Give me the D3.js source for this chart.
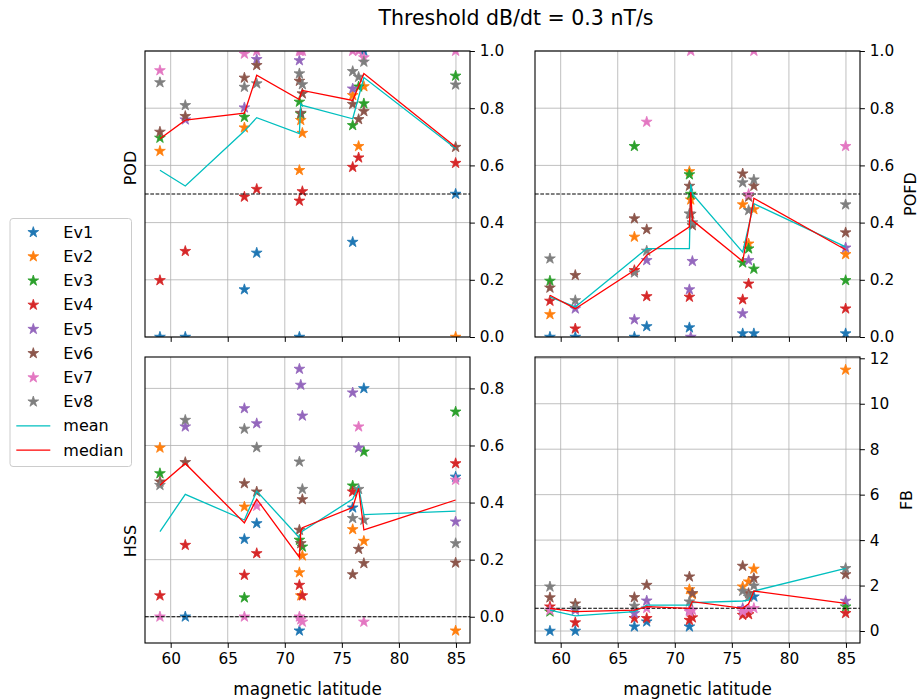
<!DOCTYPE html>
<html>
<head>
<meta charset="utf-8">
<script src="https://cdn.jsdelivr.net/npm/d3@7"></script>
<style>
  html, body { margin: 0; padding: 0; background: #fff; }
  svg { display: block; font-family: "DejaVu Sans", sans-serif; }
</style>
</head>
<body>
<svg id="chart" width="919" height="700"></svg>
<script>
// ---------------- DATA ----------------
const titleText = "Threshold dB/dt = 0.3 nT/s";
const eventNames = ["Ev1", "Ev2", "Ev3", "Ev4", "Ev5", "Ev6", "Ev7", "Ev8"];
const eventColors = ["#1f77b4", "#ff7f0e", "#2ca02c", "#d62728", "#9467bd", "#8c564b", "#e377c2", "#7f7f7f"];
// magnetic latitude of each station
const lat = [59.06, 61.28, 66.46, 67.54, 71.28, 71.40, 71.54, 75.95, 76.47, 76.93, 84.97];
const xTicks = [60, 65, 70, 75, 80, 85];

// POD per event (rows Ev1..Ev8, columns = stations)
const podValues = [
  [0.0, 0.0, 0.166, 0.294, 0.0, null, null, 0.332, null, 1.0, 0.5],
  [0.65, null, 0.732, null, 0.583, 0.758, 0.713, 0.845, 0.667, 0.876, 0.0],
  [0.696, null, 0.769, null, 0.822, 0.78, null, 0.740, 0.875, 0.816, 0.913],
  [0.198, 0.30, 0.490, 0.517, 0.476, null, 0.509, 0.594, 0.627, null, 0.608],
  [null, 0.76, 0.802, 0.971, 0.967, null, null, 0.868, null, null, null],
  [0.717, 0.772, 0.906, 0.950, 0.895, 0.783, 0.851, 0.814, 0.761, 0.789, 0.664],
  [0.932, null, 0.99, 1.0, 1.0, 1.0, 1.0, 1.0, 1.0, 0.977, 1.0],
  [0.890, 0.810, 0.874, 0.886, 0.921, null, 0.883, 0.929, 0.909, 0.962, 0.882]
];
const podMean   = [0.583, 0.528, 0.72, 0.767, 0.711, 0.816, 0.81, 0.763, 0.839, 0.907, 0.659];
const podMedian = [0.693, 0.758, 0.783, 0.915, 0.830, 0.85, 0.862, 0.827, 0.877, 0.921, 0.664];

// POFD per event
const pofdValues = [
  [0.0, 0.0, 0.0, 0.037, 0.033, null, null, 0.012, null, 0.012, 0.012],
  [0.079, null, 0.350, null, 0.579, 0.48, null, 0.463, 0.326, 0.446, 0.289],
  [0.196, null, 0.667, null, 0.568, 0.50, null, 0.260, 0.309, 0.238, 0.198],
  [0.126, 0.029, 0.233, 0.142, 0.140, null, null, 0.131, 0.186, null, 0.099],
  [null, 0.099, 0.061, 0.268, 0.166, 0.0, 0.265, 0.082, 0.268, null, 0.312],
  [0.172, 0.216, 0.414, 0.376, 0.528, 0.43, 0.39, 0.571, 0.49, 0.528, 0.365],
  [null, null, null, 0.752, null, 1.0, null, null, 0.499, 1.0, 0.667],
  [0.274, 0.128, 0.225, 0.301, 0.431, null, 0.40, 0.540, 0.443, 0.55, 0.463]
];
const pofdMean   = [0.14, 0.105, 0.274, 0.309, 0.309, 0.534, 0.50, 0.297, 0.387, 0.466, 0.315];
const pofdMedian = [0.146, 0.099, 0.233, 0.286, 0.385, 0.507, 0.408, 0.265, 0.38, 0.485, 0.305];

// HSS per event
const hssValues = [
  [null, 0.0, 0.272, 0.327, -0.049, null, null, 0.382, null, 0.80, 0.49],
  [0.592, null, 0.385, null, 0.155, 0.074, 0.214, 0.306, null, 0.265, -0.049],
  [0.502, null, 0.067, null, 0.269, null, 0.245, 0.459, null, 0.578, 0.718],
  [0.074, 0.251, 0.146, 0.222, 0.111, null, 0.074, 0.438, null, null, 0.537],
  [null, 0.666, 0.730, 0.677, 0.868, 0.812, 0.704, 0.785, 0.592, null, 0.333],
  [0.473, 0.541, 0.467, 0.438, 0.304, 0.257, 0.411, 0.148, 0.237, 0.187, 0.189],
  [0.0, null, 0.0, 0.388, 0.0, -0.01, -0.018, null, 0.666, -0.018, 0.479],
  [0.461, 0.689, 0.658, 0.593, 0.543, null, 0.447, 0.345, 0.447, 0.339, 0.257]
];
const hssMean   = [0.298, 0.429, 0.339, 0.44, 0.277, 0.29, 0.30, 0.412, 0.455, 0.358, 0.37];
const hssMedian = [0.461, 0.537, 0.329, 0.412, 0.208, 0.30, 0.312, 0.383, 0.45, 0.304, 0.409];

// FB per event
const fbValues = [
  [0.0, 0.0, 0.19, 0.41, 0.19, null, null, null, null, 1.51, null],
  [null, null, null, null, 1.83, null, 1.61, 1.95, 2.17, 2.73, 11.49],
  [0.85, null, null, null, null, null, null, null, null, null, 1.07],
  [1.07, 0.37, 0.56, 0.56, 0.48, null, 0.59, 0.70, 0.73, null, 0.78],
  [null, 0.92, 0.78, 1.33, 0.92, null, null, 1.0, null, null, 1.32],
  [1.47, 1.20, 1.48, 2.02, 2.39, null, 1.66, 2.86, 1.66, 2.32, 2.49],
  [0.92, null, null, 1.0, 0.85, null, 0.92, 0.85, 0.97, 1.0, null],
  [1.95, 1.0, 1.10, null, 1.29, null, null, 1.76, 1.5, 1.99, 2.76]
];
const fbMean   = [0.92, 0.67, 0.85, 1.14, 1.14, 1.2, 1.25, 1.32, 1.36, 1.76, 2.76];
const fbMedian = [1.0, 0.85, 0.92, 1.07, 1.0, 1.15, 1.29, 1.0, 1.2, 1.76, 1.22];

const podTicks  = [0, 0.2, 0.4, 0.6, 0.8, 1.0];
const pofdTicks = [0, 0.2, 0.4, 0.6, 0.8, 1.0];
const hssTicks  = [0, 0.2, 0.4, 0.6, 0.8];
const fbTicks   = [0, 2, 4, 6, 8, 10, 12];

// ---------------- DRAW ----------------
const svg = d3.select("#chart");
const TICK_FONT = 15.3;
const LABEL_FONT = 16;
const XLABEL_FONT = 16.8;
const LEGEND_FONT = 16;

const panels = [
  { id: "pod",  x0: 145, x1: 470, y0: 51,  y1: 337, dom: [0, 1], ticks: podTicks, fmt: d3.format(".1f"),
    vals: podValues, mean: podMean, median: podMedian, ref: 0.5, label: "POD", lx: 130, ly: 168, xlab: false },
  { id: "pofd", x0: 535, x1: 860, y0: 51,  y1: 337, dom: [0, 1], ticks: pofdTicks, fmt: d3.format(".1f"),
    vals: pofdValues, mean: pofdMean, median: pofdMedian, ref: 0.5, label: "POFD", lx: 910, ly: 194, xlab: false },
  { id: "hss",  x0: 145, x1: 470, y0: 357, y1: 643, dom: [-0.092, 0.910], ticks: hssTicks, fmt: d3.format(".1f"),
    vals: hssValues, mean: hssMean, median: hssMedian, ref: 0.0, label: "HSS", lx: 130, ly: 541, xlab: true },
  { id: "fb",   x0: 535, x1: 860, y0: 357, y1: 643, dom: [-0.528, 12.057], ticks: fbTicks, fmt: d3.format("d"),
    vals: fbValues, mean: fbMean, median: fbMedian, ref: 1.0, label: "FB", lx: 906, ly: 500, xlab: true }
];

const star = d3.symbol().type(d3.symbolStar).size(36);

panels.forEach(p => {
  const x = d3.scaleLinear().domain([57.75, 86.23]).range([p.x0, p.x1]);
  const y = d3.scaleLinear().domain(p.dom).range([p.y1, p.y0]);
  const g = svg.append("g");

  g.append("clipPath").attr("id", "clip-" + p.id)
    .append("rect").attr("x", p.x0).attr("y", p.y0).attr("width", p.x1 - p.x0).attr("height", p.y1 - p.y0);

  // grid
  const grid = g.append("g").attr("stroke", "#b0b0b0").attr("stroke-width", 0.8);
  xTicks.forEach(t => grid.append("line").attr("x1", x(t)).attr("x2", x(t)).attr("y1", p.y0).attr("y2", p.y1));
  p.ticks.forEach(t => grid.append("line").attr("x1", p.x0).attr("x2", p.x1).attr("y1", y(t)).attr("y2", y(t)));

  const plot = g.append("g").attr("clip-path", "url(#clip-" + p.id + ")");

  // stars
  p.vals.forEach((series, ei) => {
    series.forEach((v, si) => {
      if (v === null) return;
      plot.append("path").attr("d", star)
        .attr("transform", `translate(${x(lat[si])},${y(v)})`)
        .attr("fill", eventColors[ei]).attr("stroke", eventColors[ei]).attr("stroke-width", 0.8);
    });
  });

  // reference dashed line
  plot.append("line").attr("x1", p.x0).attr("x2", p.x1).attr("y1", y(p.ref)).attr("y2", y(p.ref))
    .attr("stroke", "#000").attr("stroke-width", 1).attr("stroke-dasharray", "3.7,1.6");

  const line = d3.line().x((d, i) => x(lat[i])).y(d => y(d));
  plot.append("path").attr("d", line(p.mean)).attr("fill", "none").attr("stroke", "#00bfbf").attr("stroke-width", 1.3);
  plot.append("path").attr("d", line(p.median)).attr("fill", "none").attr("stroke", "#ff0000").attr("stroke-width", 1.3);

  // axes
  const ax = g.append("g").attr("transform", `translate(0,${p.y1})`)
    .call(d3.axisBottom(x).tickValues(xTicks).tickSize(4.9).tickPadding(4.9).tickFormat(p.xlab ? d3.format("d") : () => ""));
  const ay = g.append("g").attr("transform", `translate(${p.x1},0)`)
    .call(d3.axisRight(y).tickValues(p.ticks).tickSize(4.9).tickPadding(4.9).tickFormat(p.fmt));
  [ax, ay].forEach(a => {
    a.select(".domain").remove();
    a.selectAll("line").attr("stroke", "#000").attr("stroke-width", 1);
    a.selectAll("text").attr("font-size", TICK_FONT).attr("font-family", "DejaVu Sans").attr("fill", "#000");
  });

  // frame
  g.append("rect").attr("x", p.x0).attr("y", p.y0).attr("width", p.x1 - p.x0).attr("height", p.y1 - p.y0)
    .attr("fill", "none").attr("stroke", "#000").attr("stroke-width", 1.1);

  // axis label
  g.append("text").attr("transform", `translate(${p.lx},${p.ly}) rotate(-90)`)
    .attr("text-anchor", "middle").attr("dominant-baseline", "central")
    .attr("font-size", LABEL_FONT).text(p.label);

  if (p.xlab) {
    g.append("text").attr("x", (p.x0 + p.x1) / 2).attr("y", 695)
      .attr("text-anchor", "middle").attr("font-size", XLABEL_FONT).text("magnetic latitude");
  }
});

// title
svg.append("text").attr("x", 516).attr("y", 25).attr("text-anchor", "middle")
  .attr("font-size", 20.5).text(titleText);

// legend
const leg = svg.append("g");
leg.append("rect").attr("x", 10).attr("y", 218.5).attr("width", 121.5).attr("height", 248)
  .attr("rx", 3).attr("fill", "#fff").attr("fill-opacity", 0.8).attr("stroke", "#cccccc").attr("stroke-width", 1);
const legItems = eventNames.map((n, i) => ({ name: n, color: eventColors[i], type: "star" }))
  .concat([{ name: "mean", color: "#00bfbf", type: "line" }, { name: "median", color: "#ff0000", type: "line" }]);
legItems.forEach((it, i) => {
  const cy = 232.3 + i * 24.2;
  if (it.type === "star") {
    leg.append("path").attr("d", star).attr("transform", `translate(33.3,${cy})`)
      .attr("fill", it.color).attr("stroke", it.color).attr("stroke-width", 0.8);
  } else {
    leg.append("line").attr("x1", 16.3).attr("x2", 50.3).attr("y1", cy).attr("y2", cy)
      .attr("stroke", it.color).attr("stroke-width", 1.3);
  }
  leg.append("text").attr("x", 63.3).attr("y", cy).attr("dominant-baseline", "central")
    .attr("font-size", LEGEND_FONT).text(it.name);
});
</script>
</body>
</html>
